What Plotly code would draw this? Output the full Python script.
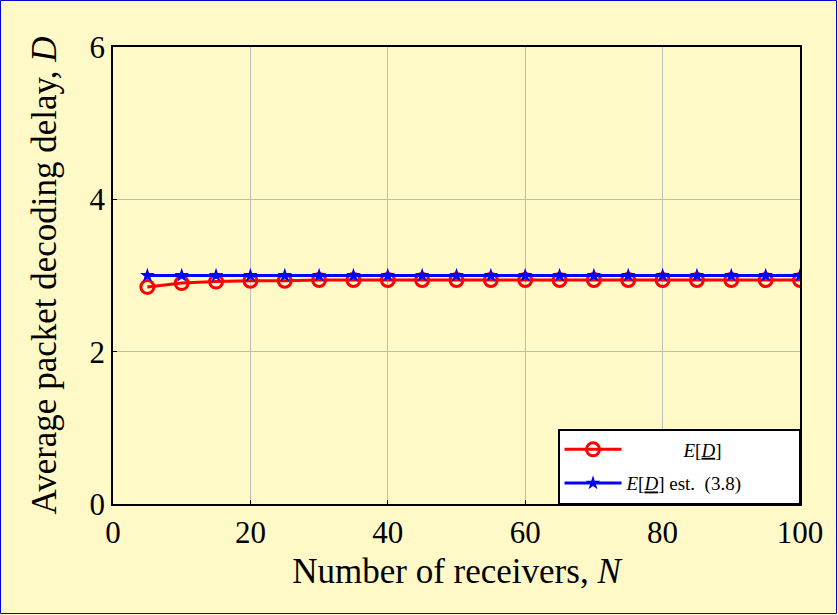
import plotly.graph_objects as go

# Number of receivers
receivers = [5, 10, 15, 20, 25, 30, 35, 40, 45, 50, 55, 60, 65, 70, 75, 80, 85, 90, 95, 100]
# Simulated average decoding delay E[D]
delay_sim = [2.85, 2.90, 2.92, 2.93, 2.93, 2.94, 2.94, 2.94, 2.94, 2.94,
             2.94, 2.94, 2.94, 2.94, 2.94, 2.94, 2.94, 2.94, 2.94, 2.94]
# Estimate from (3.8)
delay_est = [3.0] * 20

x_ticks = [0, 20, 40, 60, 80, 100]
y_ticks = [0, 2, 4, 6]

W, H = 838, 615
ML, MR, MT, MB = 113, 38, 47, 111
BG = "#FEF9C6"
FONT = "Liberation Serif"
NB = "\u00a0"

fig = go.Figure()
fig.add_trace(go.Scatter(
    x=receivers, y=delay_sim, mode="lines+markers",
    name=NB * 12 + "<i>E</i>[<u><i>D</i></u>]" + NB * 15,
    legendgroup="sim",
    line=dict(color="#FF0000", width=3),
    marker=dict(symbol="circle-open", size=13, color="#FF0000", line=dict(width=3)),
))
fig.add_trace(go.Scatter(
    x=receivers, y=delay_est, mode="lines+markers",
    name="<i>E</i>[<u><i>D</i></u>]" + NB + "est." + NB + NB + "(3.8)",
    legendgroup="est",
    line=dict(color="#0000FF", width=3),
    marker=dict(symbol="star", size=11, color="#0000FF", line=dict(width=0)),
))

pw = W - ML - MR
ph = H - MT - MB
# outer frame around the whole figure
fig.add_shape(type="rect", xref="paper", yref="paper",
              x0=-(ML - 0.5) / pw, x1=1 + (MR - 1.5) / pw,
              y0=-(MB - 1.5) / ph, y1=1 + (MT - 0.5) / ph,
              line=dict(color="#0000CC", width=1), fillcolor="rgba(0,0,0,0)", layer="below")

fig.update_layout(
    width=W, height=H,
    margin=dict(l=ML, r=MR, t=MT, b=MB),
    paper_bgcolor=BG, plot_bgcolor=BG,
    font=dict(family=FONT, size=29, color="black"),
    showlegend=True,
    legend=dict(
        x=1, y=0, xanchor="right", yanchor="bottom",
        bgcolor="white", bordercolor="black", borderwidth=1.5,
        font=dict(family=FONT, size=19, color="black"),
        itemwidth=57, tracegroupgap=6,
    ),
)
fig.update_xaxes(
    range=[0, 100], tickvals=x_ticks, ticktext=[str(v) for v in x_ticks],
    tickfont=dict(size=31),
    showgrid=True, gridcolor="#BDBDBD", gridwidth=1,
    showline=True, linecolor="black", linewidth=1.5, mirror=True,
    ticks="inside", ticklen=4, tickcolor="black", zeroline=False,
    title=dict(text="Number of receivers, <i>N</i>", standoff=10),
)
fig.update_yaxes(
    range=[0, 6], tickvals=y_ticks, ticktext=[str(v) for v in y_ticks],
    tickfont=dict(size=31),
    showgrid=True, gridcolor="#BDBDBD", gridwidth=1,
    showline=True, linecolor="black", linewidth=1.5, mirror=True,
    ticks="inside", ticklen=4, tickcolor="black", zeroline=False,
    title=dict(text="Average packet decoding delay, <i>D</i>", standoff=22),
)

fig.write_html("out.html")
